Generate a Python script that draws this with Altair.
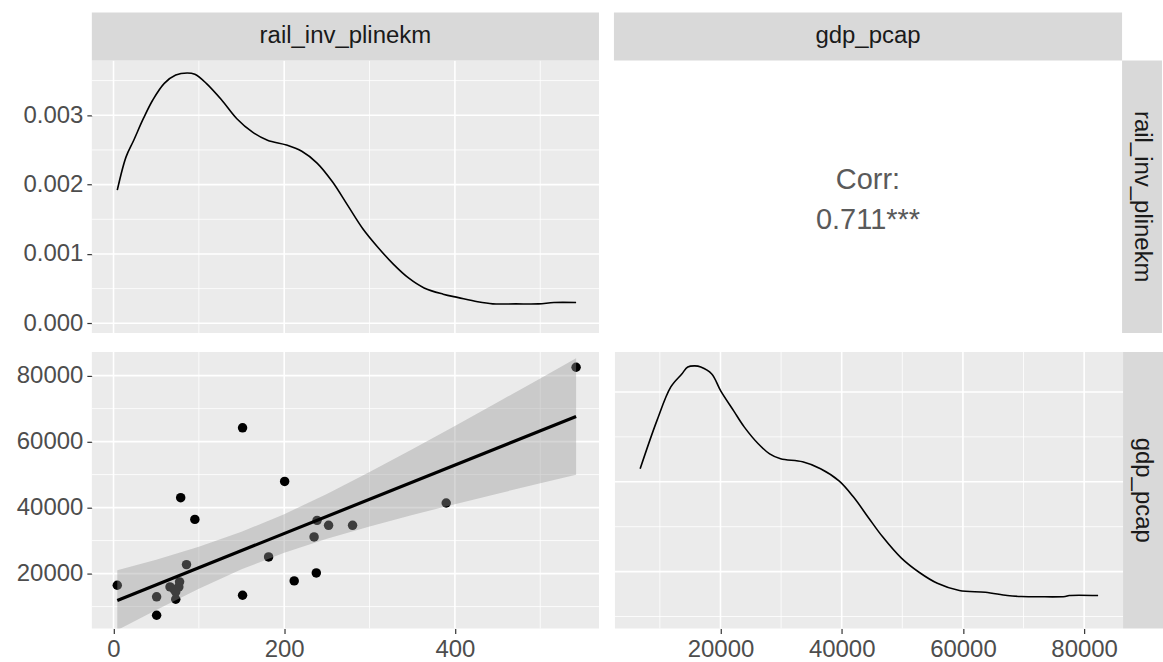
import altair as alt
import pandas as pd

FONT = "Liberation Sans"

# ---- observations: rail investment per line-km vs GDP per capita ----
rail_inv = [4.4, 50.5, 50.5, 66.2, 72.9, 72.9, 76.5, 77.4, 71.0, 78.7, 85.5, 95.3,
            151.2, 151.2, 181.7, 200.5, 211.7, 235.0, 237.6, 238.5, 252.0, 280.1,
            389.8, 542.0]
gdp_pcap = [16460, 12950, 7380, 15970, 14460, 12230, 15970, 17490, 15200, 43000,
            22720, 36430, 64180, 13430, 25050, 47930, 17790, 31100, 20200, 36130,
            34620, 34620, 41390, 82540]

# ---- kernel density of rail_inv_plinekm ----
rail_dens_x = [4.4, 14.7, 23.7, 34.9, 46.0, 59.5, 72.9, 86.3, 95.3, 108.7, 126.7,
               144.5, 162.5, 180.4, 202.7, 220.6, 238.5, 256.5, 274.4, 292.3, 310.2,
               328.1, 346.0, 363.9, 386.2, 404.1, 426.6, 444.4, 471.2, 498.0, 516.0,
               542.0]
rail_dens_y = [0.00192, 0.00240, 0.00264, 0.00295, 0.00322, 0.00346, 0.00358,
               0.00361, 0.00359, 0.00346, 0.00322, 0.00295, 0.00276, 0.00264,
               0.00257, 0.00248, 0.00231, 0.00204, 0.00170, 0.00136, 0.00109,
               0.00085, 0.00065, 0.00051, 0.00042, 0.00037, 0.00031, 0.00028,
               0.00028, 0.00028, 0.00030, 0.00030]

# ---- kernel density of gdp_pcap ----
gdp_dens_x = [6750, 9500, 11810, 13620, 14610, 15760, 16750, 18560, 20040, 22180,
              23910, 26230, 28110, 29920, 33550, 36510, 39560, 41950, 44420, 46720,
              49850, 52820, 55780, 59410, 63690, 67310, 69620, 72500, 76870, 77530,
              82300]
gdp_dens_y = [2.145e-5, 2.678e-5, 3.056e-5, 3.200e-5, 3.278e-5, 3.290e-5, 3.278e-5,
              3.200e-5, 3.011e-5, 2.789e-5, 2.611e-5, 2.423e-5, 2.311e-5, 2.256e-5,
              2.222e-5, 2.145e-5, 2.010e-5, 1.830e-5, 1.600e-5, 1.390e-5, 1.150e-5,
              0.990e-5, 0.870e-5, 0.789e-5, 0.770e-5, 0.734e-5, 0.723e-5, 0.720e-5,
              0.723e-5, 0.734e-5, 0.734e-5]

# ---- linear fit with 95% confidence band ----
fit_x = [4.4, 542.0]
fit_y = [11870, 67615]
band_x = [4.4, 50, 100, 150, 200, 250, 300, 350, 400, 450, 500, 542]
band_lo = [2860, 8980, 15430, 21280, 26290, 30540, 34280, 37740, 41030, 44230, 47360, 49960]
band_hi = [20980, 24220, 28130, 32660, 38010, 44140, 50760, 57680, 64750, 71930, 79160, 85270]

corr_lines = ["Corr:", "0.711***"]
var_names = ["rail_inv_plinekm", "gdp_pcap"]

# ---- tick / grid positions ----
rail_major = [0, 200, 400]
rail_minor = [100, 300, 500]
dens_major = [0.0, 0.001, 0.002, 0.003]
dens_minor = [0.0005, 0.0015, 0.0025, 0.0035]
gdp_major = [20000, 40000, 60000, 80000]
gdp_minor = [10000, 30000, 50000, 70000]
gdpd_major = [1e-5, 2e-5, 3e-5]
gdpd_minor = [0.5e-5, 1.5e-5, 2.5e-5]

# ---- layout constants ----
W_L, W_R = 508, 509
H_T, H_B = 273, 277
STRIP = 48
RSTRIP = 40
PANEL_BG = "#EBEBEB"
STRIP_BG = "#D9D9D9"

rail_scale = alt.Scale(domain=[-25.4, 568.8], nice=False, zero=False)
dens_scale = alt.Scale(domain=[-0.00014, 0.00379], nice=False, zero=False)
gdpx_scale = alt.Scale(domain=[2590, 86420], nice=False, zero=False)
gdpy_scale = alt.Scale(domain=[3360, 87170], nice=False, zero=False)
gdpd_scale = alt.Scale(domain=[0.367e-5, 3.445e-5], nice=False, zero=False)


def y_axis(values, fmt):
    return alt.Axis(values=values, format=fmt, title=None, grid=False, domain=False,
                    tickColor="#333333", tickSize=5, tickWidth=1.2,
                    labelColor="#4D4D4D", labelFont=FONT, labelFontSize=24,
                    labelPadding=4, minExtent=80, maxExtent=80)


def x_axis(values):
    return alt.Axis(values=values, format="d", title=None, grid=False, domain=False,
                    tickColor="#333333", tickSize=5, tickWidth=1.2,
                    labelColor="#4D4D4D", labelFont=FONT, labelFontSize=24,
                    labelPadding=4, minExtent=34, maxExtent=34)


def grid(values, channel, scale, axis, width):
    df = pd.DataFrame({"g": values})
    if channel == "x":
        enc = {"x": alt.X("g:Q", scale=scale, axis=axis)}
    else:
        enc = {"y": alt.Y("g:Q", scale=scale, axis=axis)}
    return alt.Chart(df).mark_rule(color="white", strokeWidth=width).encode(**enc)


def grid_layers(xs, ys):
    # each tuple: (major values, minor values, scale, axis shared by the panel)
    (xmaj, xmin, xsc, xax), (ymaj, ymin, ysc, yax) = xs, ys
    return [grid(xmin, "x", xsc, xax, 0.8), grid(ymin, "y", ysc, yax, 0.8),
            grid(xmaj, "x", xsc, xax, 1.6), grid(ymaj, "y", ysc, yax, 1.6)]


def top_strip(label, w):
    base = alt.Chart(pd.DataFrame({"label": [label]}))
    rect = base.mark_rect(color=STRIP_BG).encode(
        x=alt.value(0), x2=alt.value(w), y=alt.value(-STRIP), y2=alt.value(0))
    txt = base.mark_text(font=FONT, fontSize=24, color="#1A1A1A",
                         align="center", baseline="middle").encode(
        text="label:N", x=alt.value(w / 2), y=alt.value(-STRIP / 2))
    return [rect, txt]


def right_strip(label, w, h):
    base = alt.Chart(pd.DataFrame({"label": [label]}))
    rect = base.mark_rect(color=STRIP_BG).encode(
        x=alt.value(w), x2=alt.value(w + RSTRIP), y=alt.value(0), y2=alt.value(h))
    txt = base.mark_text(font=FONT, fontSize=24, color="#1A1A1A", angle=90,
                         align="center", baseline="middle").encode(
        text="label:N", x=alt.value(w + RSTRIP / 2), y=alt.value(h / 2))
    return [rect, txt]


# ---- top-left: density of rail_inv_plinekm ----
tl_yaxis = y_axis(dens_major, ".3f")
rail_dens = pd.DataFrame({"x": rail_dens_x, "d": rail_dens_y})
tl_line = alt.Chart(rail_dens).mark_line(color="black", strokeWidth=1.6,
                                          interpolate="catmull-rom").encode(
    x=alt.X("x:Q", scale=rail_scale, axis=None),
    y=alt.Y("d:Q", scale=dens_scale, axis=tl_yaxis))
top_left = alt.layer(
    *grid_layers((rail_major, rail_minor, rail_scale, None),
                 (dens_major, dens_minor, dens_scale, tl_yaxis)),
    tl_line, *top_strip(var_names[0], W_L)
).properties(width=W_L, height=H_T,
             view=alt.ViewBackground(fill=PANEL_BG, stroke=None))

# ---- top-right: correlation ----
corr_df = pd.DataFrame({"t": corr_lines})
corr1 = alt.Chart(corr_df).transform_filter(alt.datum.t == corr_lines[0]).mark_text(
    font=FONT, fontSize=29, color="#5A5A5A", align="center", baseline="middle").encode(
    text="t:N", x=alt.value(W_R / 2), y=alt.value(H_T / 2 - 17))
corr2 = alt.Chart(corr_df).transform_filter(alt.datum.t == corr_lines[1]).mark_text(
    font=FONT, fontSize=29, color="#5A5A5A", align="center", baseline="middle").encode(
    text="t:N", x=alt.value(W_R / 2), y=alt.value(H_T / 2 + 23))
top_right = alt.layer(
    corr1, corr2, *top_strip(var_names[1], W_R), *right_strip(var_names[0], W_R, H_T)
).properties(width=W_R, height=H_T,
             view=alt.ViewBackground(fill="white", stroke=None))

# ---- bottom-left: scatter with linear fit ----
bl_xaxis = x_axis(rail_major)
bl_yaxis = y_axis(gdp_major, "d")
pts = pd.DataFrame({"x": rail_inv, "y": gdp_pcap})
band = pd.DataFrame({"x": band_x, "lo": band_lo, "hi": band_hi})
fit = pd.DataFrame({"x": fit_x, "y": fit_y})

bl_points = alt.Chart(pts).mark_circle(size=90, color="black", opacity=1).encode(
    x=alt.X("x:Q", scale=rail_scale, axis=bl_xaxis),
    y=alt.Y("y:Q", scale=gdpy_scale, axis=bl_yaxis))
bl_band = alt.Chart(band).mark_area(color="#999999", opacity=0.4, clip=True).encode(
    x=alt.X("x:Q", scale=rail_scale, axis=bl_xaxis),
    y=alt.Y("lo:Q", scale=gdpy_scale, axis=bl_yaxis), y2="hi:Q")
bl_fit = alt.Chart(fit).mark_line(color="black", strokeWidth=3.2).encode(
    x=alt.X("x:Q", scale=rail_scale, axis=bl_xaxis),
    y=alt.Y("y:Q", scale=gdpy_scale, axis=bl_yaxis))
bottom_left = alt.layer(
    *grid_layers((rail_major, rail_minor, rail_scale, bl_xaxis),
                 (gdp_major, gdp_minor, gdpy_scale, bl_yaxis)),
    bl_points, bl_band, bl_fit
).properties(width=W_L, height=H_B,
             view=alt.ViewBackground(fill=PANEL_BG, stroke=None))

# ---- bottom-right: density of gdp_pcap ----
br_xaxis = x_axis(gdp_major)
gdp_dens = pd.DataFrame({"x": gdp_dens_x, "d": gdp_dens_y})
br_line = alt.Chart(gdp_dens).mark_line(color="black", strokeWidth=1.6,
                                         interpolate="catmull-rom").encode(
    x=alt.X("x:Q", scale=gdpx_scale, axis=br_xaxis),
    y=alt.Y("d:Q", scale=gdpd_scale, axis=None))
bottom_right = alt.layer(
    *grid_layers((gdp_major, gdp_minor, gdpx_scale, br_xaxis),
                 (gdpd_major, gdpd_minor, gdpd_scale, None)),
    br_line, *right_strip(var_names[1], W_R, H_B)
).properties(width=W_R, height=H_B,
             view=alt.ViewBackground(fill=PANEL_BG, stroke=None))

chart = alt.vconcat(
    alt.hconcat(top_left, top_right, spacing=14),
    alt.hconcat(bottom_left, bottom_right, spacing=14),
    spacing=15,
).properties(
    padding={"left": 12, "top": 12, "right": 0, "bottom": 0},
    background="white",
).configure_view(stroke=None)

chart.save("out.html", embed_options={"renderer": "svg", "actions": False})
